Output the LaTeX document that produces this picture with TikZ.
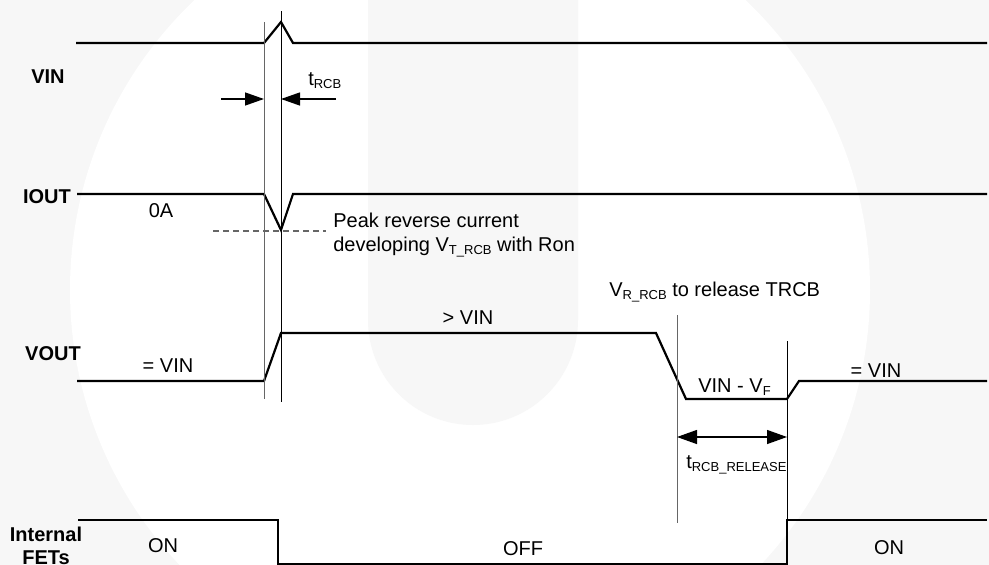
\documentclass[tikz,border=0pt]{standalone}
\usepackage{fontspec}
\setmainfont{Liberation Sans}
\usetikzlibrary{arrows.meta}
\newcommand{\lowtxt}[1]{\raisebox{-3pt}{\fontsize{13}{13}\selectfont #1}}

\begin{document}
\begin{tikzpicture}[x=1pt,y=-1pt,semithick,
		>={Triangle[length=19pt,width=13pt]},
		font=\fontsize{20}{24}\selectfont,
		sig/.style={line width=2.2pt,line join=miter},
		tick/.style={line width=1pt},
		dim/.style={line width=1.3pt},
		txt/.style={anchor=base,inner sep=0pt},
		lbl/.style={txt,font=\fontsize{20}{24}\selectfont\bfseries}]
		\tikzstyle{wmark}=[fill=black!3,draw=none]
		
		\useasboundingbox (0,0) rectangle (989,565);
		% faint logo in the background
		\path[wmark] (0,0) rectangle (989,565);
		\fill[white] (470,290) circle[radius=400];
		\path[wmark] (368,0) -- (368,320) arc[start angle=180,end angle=0,radius=105] -- (578,0) -- cycle;
		
		% signals
		\draw[sig] (76,43) -- (264,43) -- (281,22) -- (293,43) -- (987,43);
		\draw[sig] (77,194) -- (264,194) -- (281,230) -- (293,194) -- (987,194);
		\draw[sig] (77,381) -- (264,381) -- (281,333) -- (656,333) -- (686,399)
			-- (787,399) -- (799,381) -- (987,381);
		\draw[sig] (78,520) -- (278,520) -- (278,564.5) -- (787,564.5) -- (787,520) -- (987,520);
		
		% time marks
		\draw[tick,black!60] (264,22) -- (264,399);
		\draw[tick] (281,11) -- (281,402);
		\draw[tick,black!60] (677,315) -- (677,523);
		\draw[tick] (787,341) -- (787,520);
		\draw[black!60,line width=1.2pt,dash pattern=on 6pt off 4pt] (213,231) -- (326,231);
		
		\coordinate (rcbA) at (221,99);
		\coordinate (rcbB) at (264,99);
		\coordinate (rcbC) at (281,99);
		\coordinate (rcbD) at (336,99);
		\coordinate (relA) at (677,437);
		\coordinate (relB) at (787,437);
		
		\draw[dim,->] (rcbA) -- (rcbB);
		\draw[dim,->] (rcbD) -- (rcbC);
		\draw[dim,<->,>={Triangle[length=20pt,width=14pt]}] (relA) -- (relB);
		
		% names of the signals
		\node[lbl] (vin)  at (48,83)  {VIN};
		\node[lbl] (iout) at (47,203) {IOUT};
		\node[lbl] (vout) at (53,360) {VOUT};
		\node[lbl] (fetA) at (46,541) {Internal};
		\node[lbl] (fetB) at (46,564) {FETs};
		
		% levels and notes
		\node[txt] (zeroA) at (161,217) {0A};
		\node[txt,anchor=base west] (trcb) at (308,85) {t\lowtxt{RCB}};
		\node[txt,anchor=base west] (peakA) at (333,227) {Peak reverse current};
		\node[txt,anchor=base west] (peakB) at (333,251) {developing V\lowtxt{T\_RCB} with Ron};
		\node[txt] (gtvin) at (468,324) {> VIN};
		\node[txt] (eqvinA) at (168,372) {= VIN};
		\node[txt,anchor=base west] (vrrcb) at (609,296) {V\lowtxt{R\_RCB} to release TRCB};
		\node[txt,anchor=base west] (vinvf) at (698,392) {VIN - V\lowtxt{F}};
		\node[txt] (eqvinB) at (876,377) {= VIN};
		\node[txt,anchor=base west] (trel) at (686,468) {t\lowtxt{RCB\_RELEASE}};
		\node[txt] (onA) at (163,552) {ON};
		\node[txt] (off) at (523,555) {OFF};
		\node[txt] (onB) at (889,554) {ON};
	\end{tikzpicture}
\end{document}
